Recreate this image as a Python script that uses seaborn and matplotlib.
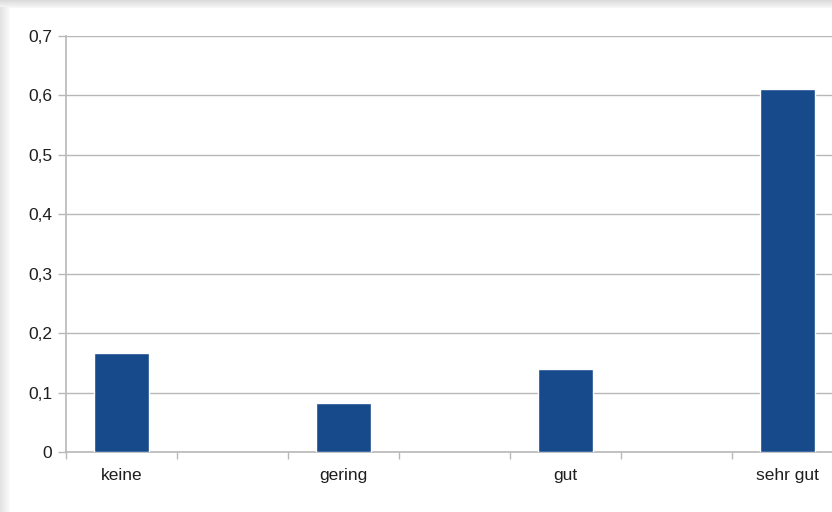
import numpy as np
import pandas as pd
import matplotlib
matplotlib.use("Agg")
import matplotlib.pyplot as plt
from matplotlib.patches import Rectangle
import seaborn as sns

# Share of answers per rating
categories = ["keine", "gering", "gut", "sehr gut"]
shares = [0.167, 0.083, 0.139, 0.611]

# Axis slots: every rating is followed by an unlabelled empty slot
slot_order = ["keine", "_a", "gering", "_b", "gut", "_c", "sehr gut"]
slot_labels = ["keine", "", "gering", "", "gut", "", "sehr gut"]
y_ticks = [0, 0.1, 0.2, 0.3, 0.4, 0.5, 0.6, 0.7]
y_tick_labels = ["0", "0,1", "0,2", "0,3", "0,4", "0,5", "0,6", "0,7"]

BAR_COLOR = "#174a8b"
GRID_COLOR = "#b8b8b8"
TEXT_COLOR = "#1e1e1e"

sns.set_style("whitegrid")
plt.rcParams["font.family"] = ["Liberation Sans", "DejaVu Sans"]

W, H, DPI = 832, 512, 100
fig = plt.figure(figsize=(W / DPI, H / DPI), dpi=DPI, facecolor="white")

# Window shadow along the top and left edges
for i in range(8):
    shade = 0.86 + 0.015 * i
    fig.add_artist(Rectangle((0, 1 - (i + 1) / H), 1, 1 / H,
                             transform=fig.transFigure, color=(shade, shade, shade),
                             lw=0, zorder=-5))
for i in range(10):
    shade = 0.89 + 0.010 * i
    fig.add_artist(Rectangle((i / W, 0), 1 / W, 1 - 7 / H,
                             transform=fig.transFigure, color=(shade, shade, shade),
                             lw=0, zorder=-4))

left, right, bottom, top = 66, 843, 452, 36
ax = fig.add_axes([left / W, 1 - bottom / H, (right - left) / W, (bottom - top) / H])
ax.set_facecolor("none")

df = pd.DataFrame({"Bewertung": categories, "Anteil": shares})
sns.barplot(data=df, x="Bewertung", y="Anteil", order=slot_order,
            color=BAR_COLOR, saturation=1, width=0.5, ax=ax, zorder=3)

ax.set_xlim(-0.5, len(slot_order) - 0.5)
ax.set_ylim(0, 0.7)
ax.set_yticks(y_ticks)
ax.set_yticklabels(y_tick_labels)
ax.set_xticks(range(len(slot_order)))
ax.set_xticklabels(slot_labels)
ax.set_xticks(np.arange(-0.5, len(slot_order), 1.0), minor=True)
ax.set_xlabel("")
ax.set_ylabel("")

ax.grid(axis="y", color=GRID_COLOR, linewidth=1.0, zorder=0)
ax.grid(axis="x", visible=False)
ax.grid(axis="x", which="minor", visible=False)

for side in ("top", "right"):
    ax.spines[side].set_visible(False)
for side in ("left", "bottom"):
    ax.spines[side].set_color(GRID_COLOR)
    ax.spines[side].set_linewidth(1.2)

ax.tick_params(axis="y", which="major", length=5.8, width=1.0, color=GRID_COLOR,
               pad=4.0, labelsize=12.5, labelcolor=TEXT_COLOR, left=True)
ax.tick_params(axis="x", which="major", length=0, pad=11.5,
               labelsize=12.5, labelcolor=TEXT_COLOR)
ax.tick_params(axis="x", which="minor", length=5.0, width=1.0, color=GRID_COLOR,
               bottom=True)

fig.savefig("out.png", dpi=DPI, facecolor="white")
